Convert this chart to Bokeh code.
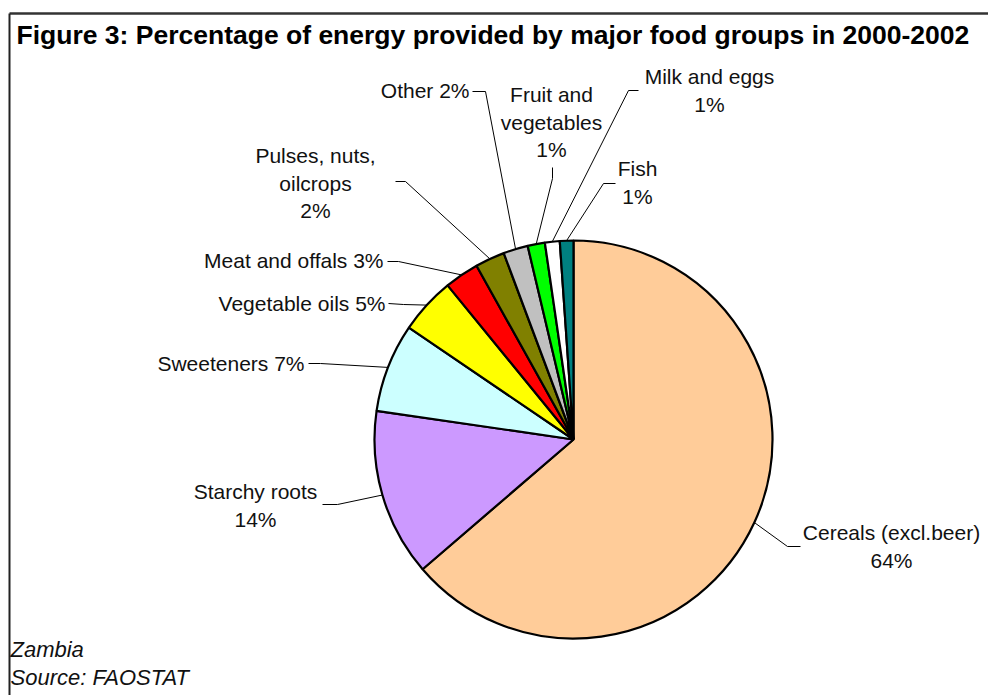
import math
from bokeh.plotting import figure
from bokeh.models import Range1d, ColumnDataSource
from bokeh.core.properties import value
from bokeh.embed import file_html
from bokeh.resources import INLINE

# ---- data (clockwise from 12 o'clock) ----
categories = ["Cereals (excl.beer)", "Starchy roots", "Sweeteners", "Vegetable oils",
              "Meat and offals", "Pulses, nuts, oilcrops", "Other", "Fruit and vegetables",
              "Milk and eggs", "Fish"]
shares = [63.7, 13.6, 7.2, 4.6, 2.8, 2.4, 2.0, 1.4, 1.2, 1.1]
colors = ["#FFCC99", "#CC99FF", "#CCFFFF", "#FFFF00", "#FF0000",
          "#808000", "#C0C0C0", "#00FF00", "#FFFFFF", "#008080"]
# how each label is broken into lines (name lines, and whether % goes on its own line)
label_names = ["Cereals (excl.beer)", "Starchy roots", "Sweeteners", "Vegetable oils",
               "Meat and offals", "Pulses, nuts,\noilcrops", "Other", "Fruit and\nvegetables",
               "Milk and eggs", "Fish"]
pct_own_line = [True, True, False, False, False, True, False, True, True, True]

title = "Figure 3: Percentage of energy provided by major food groups in 2000-2002"
footer = ["Zambia", "Source: FAOSTAT"]

# ---- layout ----
W, H = 988, 695
CX, CY, R = 573, 439, 199          # pie centre / radius in pixels (y down)
FONT = value("Liberation Sans")
FS = "21px"
LH = 27.5

# label anchor (x, y of first line, align) and leader (text-end point, elbow point)
label_layout = [
    (891, 532, "center", (800, 546), (787, 546)),
    (255, 491, "center", (322, 504), (337, 504)),
    (304, 363, "right", (308, 363), (320, 363)),
    (385, 303, "right", (388, 303), (403, 304)),
    (383, 260, "right", (387, 261), (398, 261)),
    (315, 155, "center", (395, 181), (405, 181)),
    (469, 90, "right", (472, 91), (485, 91)),
    (551, 94, "center", (552, 167), (552, 178)),
    (709, 76, "center", (638, 90), (628, 90)),
    (637, 168, "center", (615, 183), (603, 183)),
]

def Y(yp):
    return H - yp

p = figure(width=W, height=H, x_range=Range1d(0, W), y_range=Range1d(0, H),
           output_backend="svg", toolbar_location=None,
           x_axis_location=None, y_axis_location=None, min_border=0)
p.xgrid.visible = False
p.ygrid.visible = False
p.outline_line_color = None
p.background_fill_color = "white"
p.border_fill_color = "white"

# ---- pie ----
total = sum(shares)
starts, ends, mids = [], [], []
cum = 0.0
for s in shares:
    a0 = math.pi / 2 - 2 * math.pi * (cum + s) / total
    a1 = math.pi / 2 - 2 * math.pi * cum / total
    starts.append(a0)
    ends.append(a1)
    mids.append((a0 + a1) / 2)
    cum += s

src = ColumnDataSource(dict(start=starts, end=ends, color=colors))
p.wedge(x=CX, y=Y(CY), radius=R, radius_units="screen", start_angle="start", end_angle="end",
        direction="anticlock", fill_color="color", line_color="black", line_width=2.2, source=src)

# ---- leaders ----
xs, ys = [], []
for (lx, ly, al, tp, el), m in zip(label_layout, mids):
    ex = CX + R * math.cos(m)
    ey = CY - R * math.sin(m)
    xs.append([tp[0], el[0], ex])
    ys.append([Y(tp[1]), Y(el[1]), Y(ey)])
p.multi_line(xs=xs, ys=ys, line_color="black", line_width=1)

# ---- labels ----
for name, s, own, (lx, ly, al, tp, el) in zip(label_names, shares, pct_own_line, label_layout):
    pct = f"{round(s)}%"
    lines = name.split("\n")
    if own:
        lines = lines + [pct]
    else:
        lines[-1] = lines[-1] + " " + pct
    for i, t in enumerate(lines):
        p.text(x=[lx], y=[Y(ly + i * LH)], text=[t], text_font=FONT, text_font_size=FS,
               text_align=al, text_baseline="middle", text_color="#111111")

# ---- frame, title, footer ----
p.line(x=[9, W], y=[Y(13), Y(13)], line_color="#333333", line_width=2.5)
p.line(x=[9, 9], y=[Y(13), 0], line_color="#222222", line_width=2)
p.text(x=[16], y=[Y(34)], text=[title], text_font=FONT, text_font_size="26.5px",
       text_font_style="bold", text_align="left", text_baseline="middle", text_color="black")
for i, t in enumerate(footer):
    p.text(x=[10], y=[Y(649 + i * 28)], text=[t], text_font=FONT, text_font_size="22px",
           text_font_style="italic", text_align="left", text_baseline="middle", text_color="#111111")

open("out.html", "w").write(file_html(p, INLINE))
